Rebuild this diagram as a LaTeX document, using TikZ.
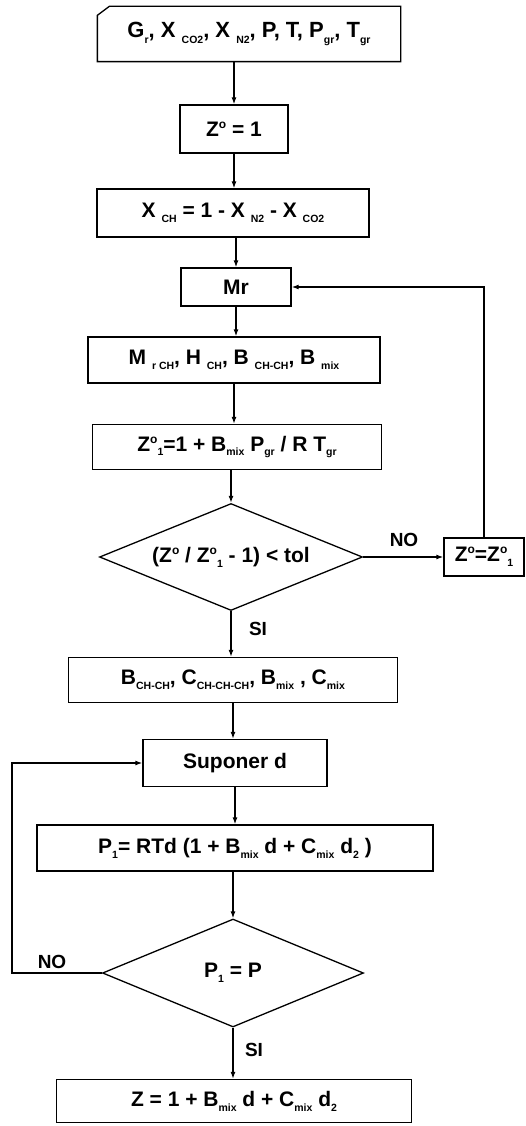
\documentclass[tikz,border=0pt]{standalone}
\usepackage{fontspec}
\setmainfont{Liberation Sans}
\usetikzlibrary{arrows.meta, shapes.geometric}
\newcommand{\lo}[1]{\raisebox{-0.45ex}{\fontsize{10.5}{11}\selectfont #1}}
\newcommand{\up}[1]{\raisebox{0.7ex}{\fontsize{12}{12}\selectfont #1}}

\begin{document}
\begin{tikzpicture}[x=1pt, y=-1pt, >={Latex[length=7pt,width=5pt]}, line width=1.3pt,
    box/.style={draw, rectangle, inner sep=0pt, font=\fontsize{21}{24}\selectfont\bfseries},
    test/.style={draw, diamond, aspect=2.5, inner sep=0pt, font=\fontsize{21}{24}\selectfont\bfseries},
    tag/.style={inner sep=0pt, font=\fontsize{19}{21}\selectfont\bfseries}]
  \useasboundingbox (0,0) rectangle (526,1126);

  % input card
  \node[box, draw=none, minimum width=302, minimum height=54, font=\fontsize{22}{24}\selectfont\bfseries] (inp) at (249,34)
    {G\lo{r}, X \lo{CO2}, X \lo{N2}, P, T, P\lo{gr}, T\lo{gr}};
  \draw (inp.south west) -- (inp.south east) -- (inp.north east)
    -- ([xshift=12pt]inp.north west) -- ([yshift=-9pt]inp.north west) -- cycle;

  \node[box, minimum width=108, minimum height=48] (zo) at (234,129) {Z\up{o} = 1};
  \node[box, minimum width=272, minimum height=48] (xch) at (233,213)
    {X \lo{CH} = 1 - X \lo{N2} - X \lo{CO2}};
  \node[box, minimum width=110, minimum height=38] (mr) at (236,287) {Mr};
  \node[box, minimum width=292, minimum height=46] (mrch) at (234,360)
    {M \lo{r CH}, H \lo{CH}, B \lo{CH-CH}, B \lo{mix}};
  \node[box, minimum width=289, minimum height=45] (zone) at (237,447)
    {Z\up{o}\lo{1}=1 + B\lo{mix} P\lo{gr} / R T\lo{gr}};
  \node[test, minimum width=263, minimum height=107] (tol) at (231,557)
    {(Z\up{o} / Z\up{o}\lo{1} - 1) < tol};
  \node[box, minimum width=80, minimum height=38] (upd) at (484,557)
    {Z\up{o}=Z\up{o}\lo{1}};
  \node[box, minimum width=329, minimum height=45] (coef) at (233,680)
    {B\lo{CH-CH}, C\lo{CH-CH-CH}, B\lo{mix} , C\lo{mix}};
  \node[box, minimum width=184, minimum height=47] (sup) at (235,763) {Suponer d};
  \node[box, minimum width=396, minimum height=46] (pone) at (235,848)
    {P\lo{1}= RTd (1 + B\lo{mix} d + C\lo{mix} d\lo{2} )};
  \node[test, minimum width=261, minimum height=108] (peq) at (233,973)
    {P\lo{1} = P};
  \node[box, minimum width=355, minimum height=43] (zfin) at (234,1101)
    {Z = 1 + B\lo{mix} d + C\lo{mix} d\lo{2}};

  \node[tag] (no1) at (404,540) {NO};
  \node[tag] (si1) at (258,629) {SI};
  \node[tag] (no2) at (52,962) {NO};
  \node[tag] (si2) at (254,1050) {SI};
  \coordinate (back) at (12,973);

  \draw[->] (zo.north |- inp.south) -- (zo.north);
  \draw[->] (zo.south) -- (xch.north -| zo.south);
  \draw[->] (mr.north |- xch.south) -- (mr.north);
  \draw[->] (mr.south) -- (mrch.north -| mr.south);
  \draw[->] (mrch.south) -- (mrch.south |- zone.north);
  \draw[->] (tol.north |- zone.south) -- (tol.north);
  \draw[->] (tol.east) -- (upd.west);
  \draw[->] (upd.north) |- (mr.east);
  \draw[->] (tol.south) -- (coef.north -| tol.south);
  \draw[->] (coef.south) -- (sup.north -| coef.south);
  \draw[->] (sup.south) -- (pone.north -| sup.south);
  \draw[->] (peq.north |- pone.south) -- (peq.north);
  \draw[->] (peq.west) -- (back) |- (sup.west);
  \draw[->] (peq.south) -- (zfin.north -| peq.south);
\end{tikzpicture}
\end{document}
